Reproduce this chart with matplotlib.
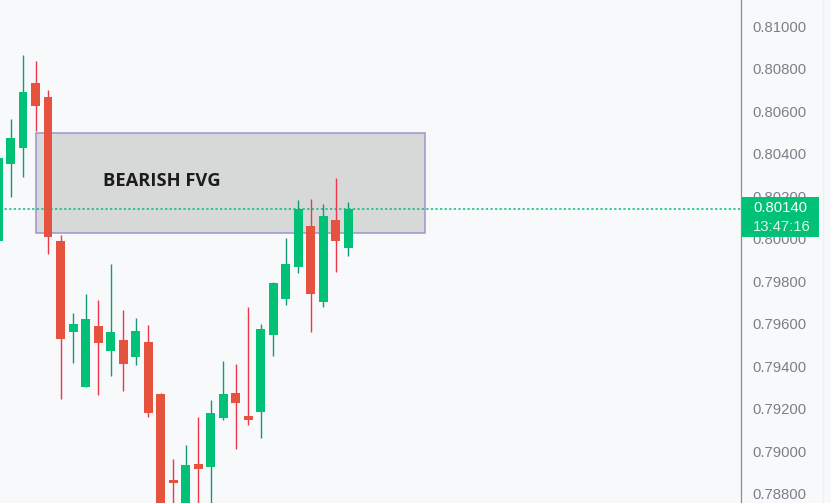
import matplotlib
matplotlib.use('Agg')
import matplotlib.pyplot as plt
from matplotlib.patches import Rectangle
from matplotlib.lines import Line2D
from matplotlib.transforms import blended_transform_factory

# OHLC values
opens = [0.79988, 0.80352, 0.80427, 0.80732, 0.80666, 0.79988, 0.79561, 0.79303,
         0.79588, 0.79472, 0.79522, 0.79444, 0.79513, 0.79268, 0.78864, 0.78740,
         0.78939, 0.78925, 0.79155, 0.79273, 0.79165, 0.79184, 0.79546, 0.79717,
         0.79866, 0.80059, 0.79701, 0.80087, 0.79955]
highs = [0.80400, 0.80562, 0.80864, 0.80835, 0.80699, 0.80016, 0.79649, 0.79739,
         0.79711, 0.79880, 0.79664, 0.79626, 0.79593, 0.79275, 0.78962, 0.79028,
         0.79160, 0.79240, 0.79424, 0.79410, 0.79678, 0.79598, 0.79795, 0.80002,
         0.80181, 0.80186, 0.80162, 0.80285, 0.80172]
lows = [0.79950, 0.80197, 0.80291, 0.80507, 0.79927, 0.79245, 0.79416, 0.79303,
        0.79265, 0.79354, 0.79284, 0.79406, 0.79161, 0.78650, 0.78700, 0.78680,
        0.78700, 0.78700, 0.79146, 0.79009, 0.79122, 0.79061, 0.79447, 0.79687,
        0.79838, 0.79560, 0.79678, 0.79842, 0.79918]
closes = [0.80379, 0.80473, 0.80689, 0.80625, 0.80008, 0.79528, 0.79598, 0.79621,
          0.79510, 0.79560, 0.79411, 0.79565, 0.79180, 0.78700, 0.78850, 0.78934,
          0.78915, 0.79179, 0.79268, 0.79226, 0.79146, 0.79574, 0.79790, 0.79880,
          0.80139, 0.79739, 0.80106, 0.79988, 0.80140]

priceTicks = [0.788, 0.790, 0.792, 0.794, 0.796, 0.798, 0.800, 0.802, 0.804, 0.806, 0.808, 0.810]
lastPrice = 0.80140
timerText = '13:47:16'
fvgLabel = 'BEARISH FVG'
fvgStart, fvgEnd = 3.0, 34.18
fvgLow, fvgHigh = 0.80024, 0.80495

bg = '#f8f9fb'
upBody, downBody = '#00c176', '#e5533f'
upWick, downWick = '#12997a', '#f0364a'


def drawCandles(ax):
    for i in range(len(opens)):
        up = closes[i] >= opens[i]
        ax.vlines(i, lows[i], highs[i], color=upWick if up else downWick, lw=1.0, zorder=3)
        bottom = min(opens[i], closes[i])
        height = max(abs(closes[i] - opens[i]), 0.00002)
        ax.bar(i, height, bottom=bottom, width=0.72, color=upBody if up else downBody,
               lw=0, zorder=4)


def main():
    fig = plt.figure(figsize=(8.31, 5.03), dpi=100, facecolor=bg)
    ax = fig.add_axes([0, 0, 741 / 831, 1])
    ax.set_facecolor(bg)

    # fair value gap zone
    ax.add_patch(Rectangle((fvgStart, fvgLow), fvgEnd - fvgStart, fvgHigh - fvgLow,
                           facecolor='#d7d8d8', edgecolor='#a093cc', lw=1.1, zorder=1))
    ax.text(8.38, 0.80271, fvgLabel, fontsize=13.2, fontweight='bold',
            family=['Open Sans', 'DejaVu Sans'], color='#1c1c1c', ha='left', va='center', zorder=2)

    ax.axhline(lastPrice, color='#00c176', lw=1.1, ls=(0, (1.5, 1.5)), zorder=2)
    drawCandles(ax)

    ax.set_xlim(0.16, 59.44)
    ax.set_ylim(0.787553, 0.811224)

    ax.yaxis.tick_right()
    ax.set_yticks(priceTicks)
    ax.set_yticklabels(['%.5f' % t for t in priceTicks])
    ax.tick_params(axis='y', length=0, pad=8, labelsize=10.7, labelcolor='#7b7f87')
    for lab in ax.get_yticklabels():
        lab.set_family(['Liberation Sans', 'DejaVu Sans'])
    ax.set_xticks([])
    for side in ['top', 'left', 'bottom']:
        ax.spines[side].set_visible(False)
    ax.spines['right'].set_color('#8c8c8c')
    ax.spines['right'].set_linewidth(0.9)

    # last price label on the scale
    trans = blended_transform_factory(ax.transAxes, ax.transData)
    ax.add_patch(Rectangle((1.0009, 0.80006), 0.1048, 0.00188, transform=trans,
                           facecolor='#00c176', edgecolor='none', clip_on=False, zorder=6))
    ax.text(1.0162, 0.80142, '%.5f' % lastPrice, transform=trans, fontsize=10.7, color='white',
            family=['Liberation Sans', 'DejaVu Sans'], ha='left', va='center', clip_on=False, zorder=7)
    ax.text(1.0162, 0.80056, timerText, transform=trans, fontsize=10.7, color='#dcf7ea',
            family=['Liberation Sans', 'DejaVu Sans'], ha='left', va='center', clip_on=False, zorder=7)

    # faint border on the far right of the price scale
    fig.add_artist(Line2D([823 / 831, 823 / 831], [0, 1], color='#eef0f3', lw=1.0))

    fig.savefig('out.png', dpi=100, facecolor=bg)


if __name__ == '__main__':
    main()
